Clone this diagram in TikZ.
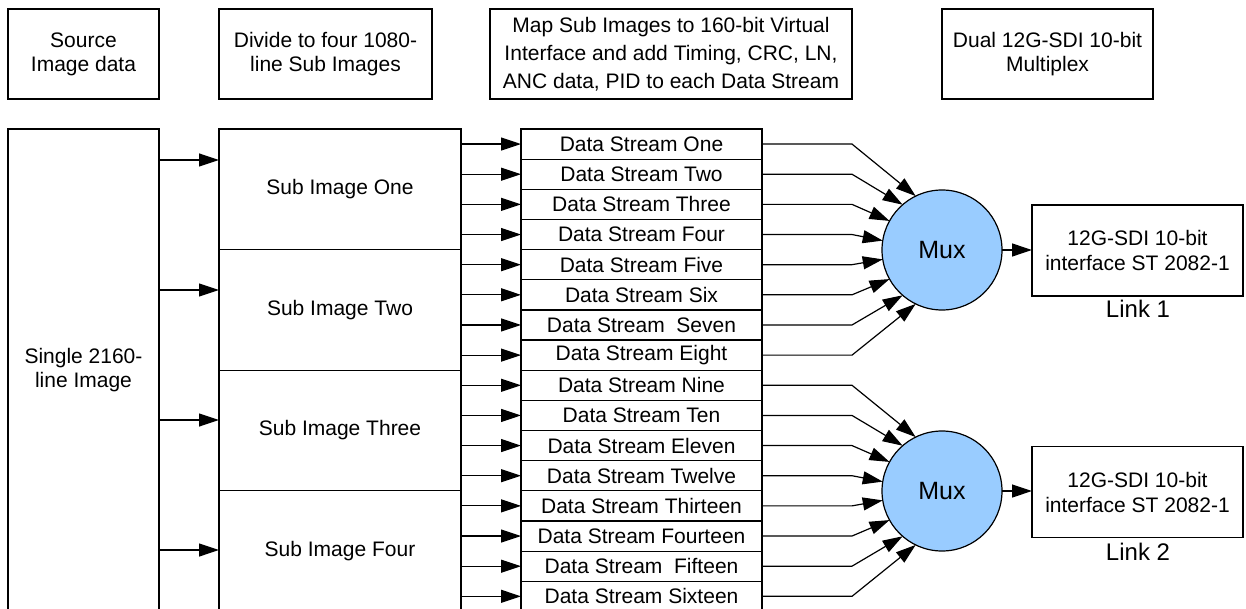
\documentclass[tikz,border=0pt]{standalone}
\usepackage{fontspec}
\setmainfont{Liberation Sans}
\usetikzlibrary{arrows.meta}
\definecolor{muxblue}{HTML}{99CCFF}
\begin{document}
\begin{tikzpicture}[x=1pt,y=-1pt,
  box/.style={draw, line width=1.2pt, inner sep=0pt, outer sep=0pt, align=center, font=\fontsize{21}{24}\selectfont},
  arr/.style={line width=1.2pt, -{Triangle[length=20pt,width=13pt]}},
  muxc/.style={circle, draw, line width=1.2pt, fill=muxblue, minimum size=120pt, inner sep=0pt, outer sep=0pt, font=\fontsize{25}{28}\selectfont},
  lab/.style={inner sep=0pt, font=\fontsize{24}{28}\selectfont}
]
\useasboundingbox (0,0) rectangle (1246,609);
\clip (0,0) rectangle (1246,609);

% header boxes
\node[box, minimum width=151pt, minimum height=90pt] (h1) at (83.5,54) {Source\\Image data};
\node[box, minimum width=213pt, minimum height=90pt] (h2) at (325.5,54) {Divide to four 1080-\\line Sub Images};
\node[box, minimum width=362pt, minimum height=90pt, font=\fontsize{21}{28}\selectfont] (h3) at (671,54) {Map Sub Images to 160-bit Virtual\\Interface and add Timing, CRC, LN,\\ANC data, PID to each Data Stream};
\node[box, minimum width=211pt, minimum height=90pt] (h4) at (1047.5,54) {Dual 12G-SDI 10-bit\\Multiplex};

% source
\node[box, minimum width=151pt, minimum height=483pt] (src) at (83.5,370.5) {Single 2160-\\line Image};

% sub images
\foreach \i/\t in {1/One,2/Two,3/Three,4/Four}{
  \node[box, minimum width=242pt, minimum height=120.6pt] (s\i) at (340,{129+120.6*(\i-1)+60.3}) {Sub Image \t};
}
\foreach \i/\y in {1/160,2/290,3/420,4/550}{
  \draw[arr] (src.east |- 0,\y) -- (s\i.west |- 0,\y);
}

% data streams
\foreach \i/\t in {1/One,2/Two,3/Three,4/Four,5/Five,6/Six,7/{\ Seven},8/Eight,9/Nine,10/Ten,11/Eleven,12/Twelve,13/Thirteen,14/Fourteen,15/{\ Fifteen},16/Sixteen}{
  \node[box, minimum width=241pt, minimum height=30.15pt] (d\i) at (641.5,{129+30.15*(\i-0.5)}) {Data Stream \t};
  \pgfmathtruncatemacro{\k}{(\i-1)/4+1}
  \draw[arr] (s\k.east |- d\i.west) -- (d\i.west);
}

% muxes
\node[muxc] (m1) at (942,250) {Mux};
\node[muxc] (m2) at (942,491) {Mux};

\foreach \i/\a in {1/116,2/131,3/151,4/171,5/189,6/209,7/229,8/244}{
  \pgfmathtruncatemacro{\j}{\i+8}
  \draw[arr] (d\i.east) -- ++(90,0) -- (m1.\a);
  \draw[arr] (d\j.east) -- ++(90,0) -- (m2.\a);
}

% outputs
\node[box, minimum width=211pt, minimum height=91pt, font=\fontsize{21}{25}\selectfont] (o1) at (1137.5,250.5) {12G-SDI 10-bit\\interface ST 2082-1};
\node[box, minimum width=211pt, minimum height=91pt, font=\fontsize{21}{25}\selectfont] (o2) at (1137.5,492) {12G-SDI 10-bit\\interface ST 2082-1};
\draw[arr] (m1.east) -- (m1.east -| o1.west);
\draw[arr] (m2.east) -- (m2.east -| o2.west);
\node[lab] (l1) at (1138,308.5) {Link 1};
\node[lab] (l2) at (1138,551.5) {Link 2};
\end{tikzpicture}
\end{document}
